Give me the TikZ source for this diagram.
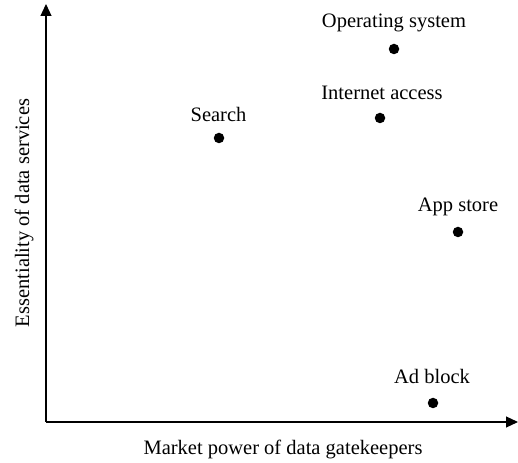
\documentclass[tikz,border=0pt]{standalone}
\usepackage{fontspec}
\setmainfont{Liberation Serif}
\usetikzlibrary{arrows.meta}
\begin{document}
\begin{tikzpicture}[x=1pt,y=1pt,
  axis/.style={line width=1.2pt,-{Triangle[length=12pt,width=11pt]}},
  dot/.style={circle,fill=black,inner sep=0pt,minimum size=10.5pt},
  lbl/.style={font=\fontsize{20.5}{24}\selectfont,inner sep=0pt,anchor=base}]
\useasboundingbox (0,0) rectangle (518,462);
\coordinate (o) at (46,40);
\coordinate (ytip) at (46,458);
\coordinate (xtip) at (518,40);
\draw[axis] (o) -- (ytip);
\draw[axis] (o) -- (xtip);
\node[dot] (os) at (394,413) {};
\node[lbl] (oslbl) at (394,434) {Operating system};
\node[dot] (ia) at (380,344) {};
\node[lbl] (ialbl) at (382,362) {Internet access};
\node[dot] (se) at (219,324) {};
\node[lbl] (selbl) at (218.5,340) {Search};
\node[dot] (as) at (458,230) {};
\node[lbl] (aslbl) at (458,250) {App store};
\node[dot] (ab) at (433,59) {};
\node[lbl] (ablbl) at (432,78) {Ad block};
\node[lbl] (xl) at (283,8) {Market power of data gatekeepers};
\node[lbl,rotate=90] (yl) at (29,249) {Essentiality of data services};
\end{tikzpicture}
\end{document}
